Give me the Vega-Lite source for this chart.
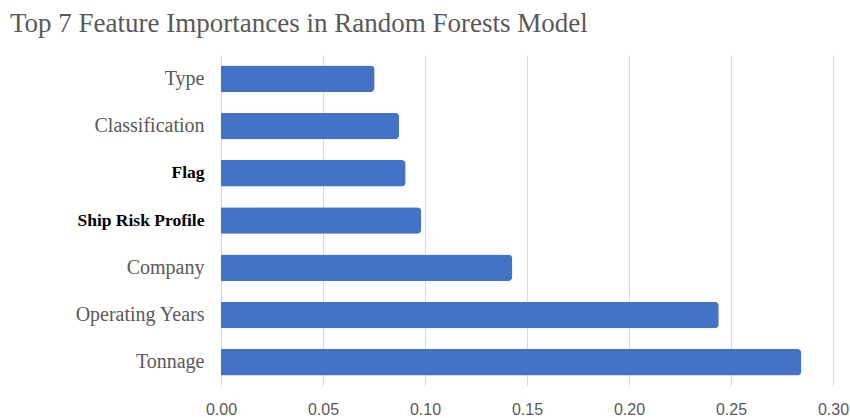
{
  "$schema": "https://vega.github.io/schema/vega-lite/v6.json",
  "autosize": {"type": "none"},
  "width": 612,
  "height": 331,
  "padding": {"left": 221, "top": 55, "right": 17, "bottom": 32},
  "background": "white",
  "title": {
    "text": "Top 7 Feature Importances in Random Forests Model",
    "anchor": "start",
    "frame": "group",
    "dx": -211,
    "offset": 17,
    "font": "Liberation Serif",
    "fontSize": 27,
    "fontWeight": "normal",
    "color": "#595959"
  },
  "data": {
    "values": [
      {"feature": "Type", "importance": 0.0753},
      {"feature": "Classification", "importance": 0.0873},
      {"feature": "Flag", "importance": 0.0905},
      {"feature": "Ship Risk Profile", "importance": 0.0982},
      {"feature": "Company", "importance": 0.1428},
      {"feature": "Operating Years", "importance": 0.244},
      {"feature": "Tonnage", "importance": 0.2845}
    ]
  },
  "mark": {"type": "bar", "color": "#4472C4", "cornerRadiusEnd": 4},
  "encoding": {
    "y": {
      "field": "feature",
      "type": "nominal",
      "sort": {"field": "importance", "order": "ascending"},
      "scale": {"paddingInner": 0.44, "paddingOuter": 0.22},
      "axis": {
        "title": null,
        "ticks": false,
        "domain": false,
        "labelPadding": 17,
        "labelFont": "Liberation Serif",
        "labelFontSize": {"condition": {"test": "datum.value == 'Flag' || datum.value == 'Ship Risk Profile'", "value": 17.5}, "value": 20},
        "labelFontWeight": {"condition": {"test": "datum.value == 'Flag' || datum.value == 'Ship Risk Profile'", "value": "bold"}, "value": "normal"},
        "labelColor": {"condition": {"test": "datum.value == 'Flag' || datum.value == 'Ship Risk Profile'", "value": "#000000"}, "value": "#595959"}
      }
    },
    "x": {
      "field": "importance",
      "type": "quantitative",
      "scale": {"domain": [0, 0.3], "nice": false},
      "axis": {
        "title": null,
        "values": [0, 0.05, 0.1, 0.15, 0.2, 0.25, 0.3],
        "format": ".2f",
        "ticks": false,
        "domain": false,
        "grid": true,
        "gridColor": "#d9d9d9",
        "gridWidth": 1,
        "labelPadding": 15,
        "labelFont": "Liberation Sans",
        "labelFontSize": 16,
        "labelColor": "#595959",
        "labelFlush": false
      }
    }
  },
  "config": {"view": {"stroke": null}}
}
